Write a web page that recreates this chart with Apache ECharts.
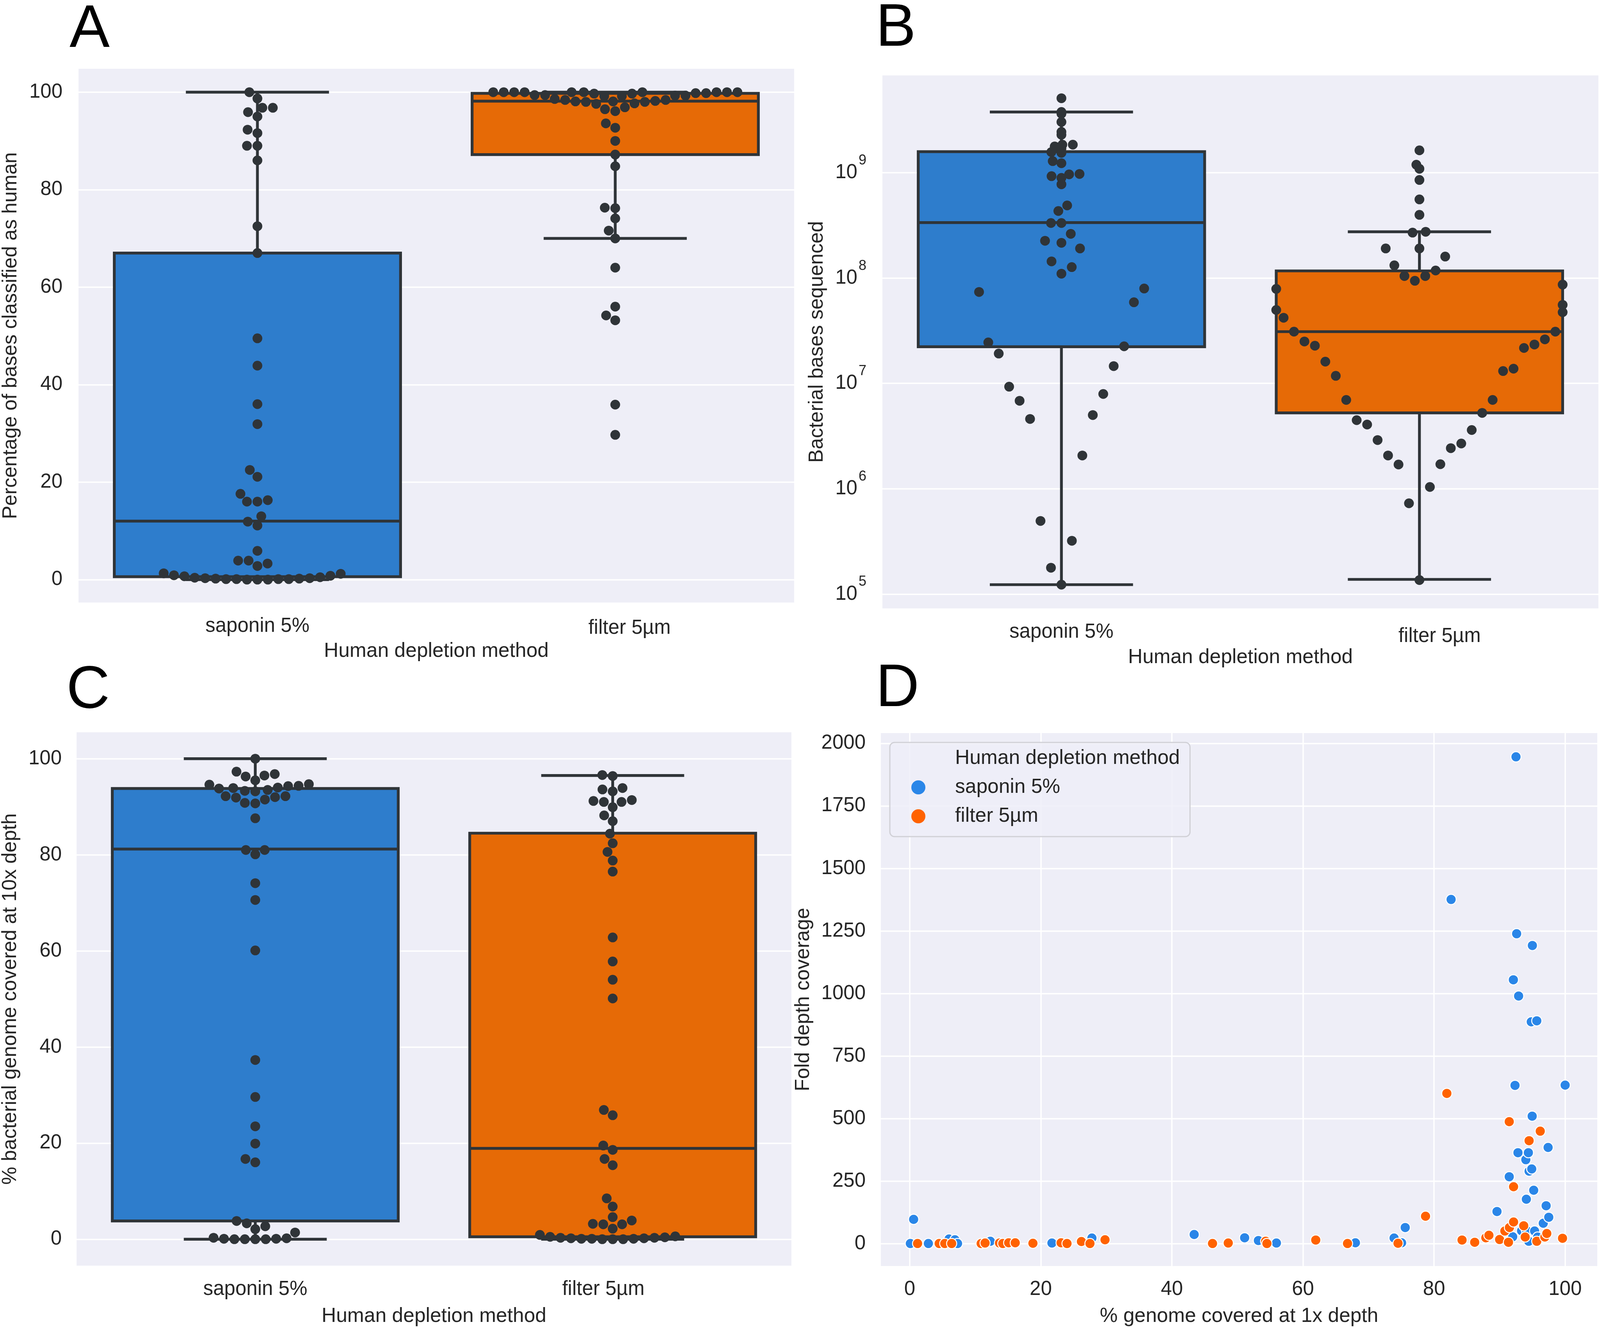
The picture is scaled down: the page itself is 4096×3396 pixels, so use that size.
<!DOCTYPE html>
<html><head><meta charset="utf-8">
<script src="https://cdn.jsdelivr.net/npm/echarts@6/dist/echarts.min.js"></script>
<style>html,body{margin:0;padding:0;background:#fff}#c{width:4096px;height:3396px}</style>
</head><body><div id="c"></div>
<script>
// ---------------- data ----------------
const categories = ['saponin 5%', 'filter 5µm'];
const pctTicks = [0, 20, 40, 60, 80, 100];
const bTickExponents = [5, 6, 7, 8, 9];
const dXTicks = [0, 20, 40, 60, 80, 100];
const dYTicks = [0, 250, 500, 750, 1000, 1250, 1500, 1750, 2000];

// Panel A: % bases classified as human
const aSaponin = [100, 98.7, 96.8, 96.8, 95.9, 95.0, 92.3, 91.6, 89.0, 89.0, 86.0, 72.5, 67.0, 49.5, 43.9, 36.0, 31.9, 22.5, 21.1, 17.6, 16.3, 16.0, 16.0, 13.0, 11.9, 11.1, 5.9, 3.9, 3.9, 3.3, 2.8, 1.3, 1.2, 0.9, 0.8, 0.7, 0.5, 0.4, 0.3, 0.3, 0.2, 0.2, 0.1, 0.1, 0.1, 0.1, 0.0, 0.0, 0.0];
const aFilter = [100, 100, 100, 100, 100, 100, 100, 100, 100, 100, 99.8, 99.8, 99.7, 99.7, 99.4, 99.4, 99.3, 99.3, 99.2, 99.2, 98.6, 98.4, 98.4, 98.2, 98.1, 98.1, 98.0, 98.0, 97.7, 97.6, 96.9, 96.5, 96.1, 93.6, 92.7, 90.0, 87.2, 84.8, 76.3, 76.2, 74.1, 71.6, 70.0, 64.0, 56.0, 54.2, 53.2, 35.9, 29.7];
const aBoxSaponin = [0, 0.6, 12.0, 67.0, 100];      // low whisker, Q1, median, Q3, high whisker
const aBoxFilter = [70.0, 87.2, 98.15, 99.76, 100];

// Panel B: bacterial bases sequenced
const bSaponin = [5.09e9, 3.77e9, 3.63e9, 3.03e9, 2.44e9, 2.29e9, 1.845e9, 1.845e9, 1.774e9, 1.694e9, 1.57e9, 1.542e9, 1.288e9, 1.23e9, 9.73e8, 9.64e8, 9.27e8, 8.93e8, 7.76e8, 4.89e8, 4.33e8, 3.33e8, 3.33e8, 2.63e8, 2.26e8, 2.16e8, 1.91e8, 1.44e8, 1.27e8, 1.10e8, 7.96e7, 7.38e7, 5.89e7, 2.45e7, 2.25e7, 1.92e7, 1.46e7, 9.31e6, 7.94e6, 6.84e6, 5.01e6, 4.60e6, 2.07e6, 4.95e5, 3.21e5, 1.78e5, 1.23e5];
const bFilter = [1.36e5, 7.28e5, 1.04e6, 1.70e6, 1.71e6, 2.07e6, 2.43e6, 2.69e6, 2.90e6, 3.61e6, 4.07e6, 4.48e6, 5.25e6, 6.97e6, 6.97e6, 1.18e7, 1.31e7, 1.38e7, 1.61e7, 2.17e7, 2.28e7, 2.34e7, 2.50e7, 2.62e7, 3.10e7, 3.10e7, 4.20e7, 4.74e7, 4.98e7, 5.57e7, 7.89e7, 8.67e7, 9.42e7, 1.045e8, 1.045e8, 1.18e8, 1.32e8, 1.60e8, 1.91e8, 1.91e8, 2.70e8, 2.75e8, 3.98e8, 5.58e8, 8.53e8, 1.09e9, 1.19e9, 1.63e9];
const bBoxSaponin = [1.23e5, 2.23e7, 3.36e8, 1.585e9, 3.77e9];
const bBoxFilter = [1.38e5, 5.25e6, 3.1e7, 1.17e8, 2.75e8];

// Panel C: % bacterial genome covered at 10x depth
const cSaponin = [100, 97.3, 96.8, 96.5, 96.3, 95.5, 94.7, 94.6, 94.35, 94.3, 94.0, 93.9, 93.8, 93.5, 93.3, 93.2, 92.2, 92.2, 92.0, 91.9, 91.5, 90.8, 90.7, 87.6, 81.0, 81.0, 80.1, 74.1, 70.6, 60.1, 37.3, 29.6, 23.5, 19.9, 16.7, 16.0, 3.8, 3.3, 2.7, 2.1, 1.4, 0.3, 0.2, 0.1, 0.1, 0.0, 0.0, 0.0, 0.0];
const cFilter = [96.6, 96.4, 93.9, 93.6, 93.2, 91.4, 91.2, 91.0, 91.0, 89.9, 88.2, 87.0, 84.4, 82.4, 80.6, 78.8, 76.5, 62.8, 57.8, 54.0, 50.1, 26.9, 25.8, 19.5, 18.6, 16.7, 15.4, 8.5, 6.8, 4.6, 3.9, 3.2, 3.1, 3.1, 2.2, 0.9, 0.6, 0.4, 0.3, 0.2, 0.1, 0.1, 0.0, 0.0, 0.0, 0.1, 0.2, 0.3, 0.5];
const cBoxSaponin = [0, 3.8, 81.2, 93.8, 100];
const cBoxFilter = [0, 0.5, 18.9, 84.5, 96.5];

// Panel D: [% genome covered at 1x depth, fold depth coverage]
const dSaponin = [[0.6, 97.6], [0.1, 1], [2.85, 1], [6.0, 19], [6.9, 16], [7.3, 1], [12.3, 10], [21.7, 3], [27.8, 23], [43.4, 37], [51.1, 24], [53.2, 13], [55.95, 3], [68.0, 4], [73.9, 23], [75.05, 4], [75.6, 65], [82.6, 1376], [89.6, 129], [91.47, 268], [92.0, 28], [92.1, 1055], [92.35, 633], [92.5, 1946], [92.6, 1239], [92.8, 364], [92.9, 990], [93.35, 52], [94.0, 336], [94.08, 178], [94.1, 53], [94.39, 364], [94.45, 10], [94.5, 290], [94.83, 887], [94.9, 299], [95.0, 1192], [94.97, 510], [95.2, 214], [95.34, 51], [95.67, 891], [95.8, 27], [96.66, 82], [97.1, 152], [97.4, 385], [97.5, 106], [100, 634]];
const dFilter = [[1.2, 1], [4.5, 1], [5.35, 1], [6.4, 1], [10.9, 1], [11.5, 3], [13.7, 3], [14.2, 1], [15.1, 4], [16.1, 4], [18.8, 2], [23.1, 4], [24.0, 1], [26.2, 9], [27.5, 1], [29.8, 16], [46.2, 1], [48.6, 3], [54.3, 10], [54.5, 1], [61.95, 15], [66.8, 1], [74.5, 2], [78.7, 110], [81.95, 601], [84.27, 15], [86.2, 6], [87.9, 24], [88.37, 34], [90.0, 17], [90.8, 51], [91.35, 6], [91.47, 488], [91.5, 65], [92.13, 228], [92.13, 87], [93.68, 72], [93.9, 27], [94.5, 412], [95.67, 10], [96.2, 450], [96.9, 27], [97.2, 41], [99.6, 22]];

// ---------------- style / layout ----------------
const FONT = '"Liberation Sans", Arial, Helvetica, sans-serif';
const TXT = '#262626';
const PLOT_BG = '#EEEEF7';
const EDGE = '#2f3438';
const DOT = '#2f3438';
const BLUE_BOX = '#2e7dcc', ORANGE_BOX = '#e66a06';
const BLUE = '#2a86e8', ORANGE = '#ff6200';
const LW = 7.2;
const TICK_FS = 51, TITLE_FS = 51.5, LETTER_FS = 154;
const SWARM_D = 25.5, DOT_SIZE = 25;

const G = {
  A: {left: 201, top: 176, width: 1832, height: 1366, ymin: -4.7, ymax: 104.8},
  B: {left: 2259, top: 193, width: 1833, height: 1364, ymin: 4.8645, ymax: 9.9235},
  C: {left: 193, top: 1874, width: 1833, height: 1365, ymin: -5.5, ymax: 105.5},
  D: {left: 2255, top: 1876, width: 1834, height: 1365, xmin: -4.4, xmax: 104.9, ymin: -89, ymax: 2041}
};

// seaborn-style beeswarm (in pixel space), returns x offsets in px
function beeswarm(vals, pxPerUnit, d, halfWidthPx) {
  const pts = vals.map((v, i) => ({v, y: v * pxPerUnit, i})).sort((a, b) => a.y - b.y);
  const placed = [];
  for (const p of pts) {
    const neighbors = [];
    for (let j = placed.length - 1; j >= 0; j--) {
      if (p.y - placed[j].y < d) neighbors.unshift(placed[j]); else break;
    }
    const cands = [0];
    let leftFirst = true;
    for (const n of neighbors) {
      const dy = p.y - n.y;
      const dx = Math.sqrt(Math.max(d * d - dy * dy, 0)) * 1.05;
      const cl = n.x - dx, cr = n.x + dx;
      if (leftFirst) cands.push(cl, cr); else cands.push(cr, cl);
      leftFirst = !leftFirst;
    }
    const sorted = cands.map((c, k) => ({c, k}))
      .sort((a, b) => (Math.abs(a.c) - Math.abs(b.c)) || (a.k - b.k)).map(o => o.c);
    let x = 0;
    if (neighbors.length) {
      x = sorted[sorted.length - 1];
      for (const c of sorted) {
        if (neighbors.every(n => (n.x - c) ** 2 + (n.y - p.y) ** 2 >= d * d)) { x = c; break; }
      }
    }
    p.x = x;
    placed.push(p);
  }
  return placed.map(p => ({v: p.v, dx: Math.max(-halfWidthPx, Math.min(halfWidthPx, p.x))}));
}

function swarmSeries(vals, cat, grid, swarmPxPerUnit, toY, xIdx, yIdx) {
  const pxPerX = grid.width / 2;
  const sw = beeswarm(vals, swarmPxPerUnit, SWARM_D, 0.4 * pxPerX);
  return {
    type: 'scatter', xAxisIndex: xIdx, yAxisIndex: yIdx, silent: true, z: 5,
    symbol: 'circle', symbolSize: DOT_SIZE, itemStyle: {color: DOT, opacity: 1},
    data: sw.map(p => [cat + p.dx / pxPerX, toY(p.v)])
  };
}

function renderBox(params, api) {
  const c = api.value(0), lo = api.value(1), q1 = api.value(2), md = api.value(3), q3 = api.value(4), hi = api.value(5);
  const fill = api.visual('color');
  const P = (x, y) => api.coord([x, y]);
  const ls = {stroke: EDGE, lineWidth: LW, fill: null};
  const line = (a, b) => ({type: 'line', shape: {x1: a[0], y1: a[1], x2: b[0], y2: b[1]}, style: ls});
  const tl = P(c - 0.4, q3), br = P(c + 0.4, q1);
  return {type: 'group', children: [
    line(P(c, q3), P(c, hi)), line(P(c, q1), P(c, lo)),
    line(P(c - 0.2, hi), P(c + 0.2, hi)), line(P(c - 0.2, lo), P(c + 0.2, lo)),
    {type: 'rect', shape: {x: tl[0], y: tl[1], width: br[0] - tl[0], height: br[1] - tl[1]}, style: {fill: fill, stroke: EDGE, lineWidth: LW}},
    line(P(c - 0.4, md), P(c + 0.4, md))
  ]};
}

function boxSeries(boxes, toY, xIdx, yIdx) {
  return {
    type: 'custom', xAxisIndex: xIdx, yAxisIndex: yIdx, silent: true, z: 2,
    renderItem: renderBox, encode: {x: 0, y: [1, 2, 3, 4, 5]},
    data: boxes.map((b, i) => ({value: [i].concat(b.map(toY)), itemStyle: {color: i === 0 ? BLUE_BOX : ORANGE_BOX}}))
  };
}

const nameStyle = {fontSize: TITLE_FS, fontFamily: FONT, color: TXT};
function catAxis(gi, namegap, richPad) {
  return {
    type: 'category', gridIndex: gi, data: categories, boundaryGap: true,
    axisLine: {show: false}, axisTick: {show: false}, splitLine: {show: false},
    axisLabel: {margin: 35, fontSize: TICK_FS, fontFamily: FONT, color: TXT,
      formatter: v => v === categories[1] ? '{f|' + v + '}' : v,
      rich: {f: {fontSize: TICK_FS, fontFamily: FONT, color: TXT, padding: richPad}}},
    name: 'Human depletion method', nameLocation: 'middle', nameGap: namegap, nameTextStyle: nameStyle
  };
}
function hiddenX(gi) { return {type: 'value', gridIndex: gi, min: -0.5, max: 1.5, show: false}; }
function valAxis(gi, min, max, ticks, name, gap, margin, fmt, rich) {
  const lab = {customValues: ticks, margin, fontSize: TICK_FS, fontFamily: FONT, color: TXT, formatter: fmt || (v => String(v))};
  if (rich) lab.rich = rich;
  return {
    type: 'value', gridIndex: gi, min, max,
    axisLine: {show: false}, axisTick: {show: false, customValues: ticks},
    axisLabel: lab,
    splitLine: {show: true, lineStyle: {color: '#ffffff', width: 3.5}},
    name, nameLocation: 'middle', nameGap: gap, nameTextStyle: nameStyle
  };
}

const id = v => v;
const lg = v => Math.log10(v);
const bAll = bSaponin.concat(bFilter);
const bMax = Math.max(...bAll), bMin = Math.min(...bAll);
const bLinPx = G.B.height / (1.1 * (bMax - bMin));   // swarm laid out on the linear scale

const grids = ['A', 'B', 'C', 'D'].map(k => ({
  left: G[k].left, top: G[k].top, width: G[k].width, height: G[k].height,
  show: true, backgroundColor: PLOT_BG, borderWidth: 0, containLabel: false
}));

const letter = (t, x, y) => ({type: 'text', x, y, style: {text: t, fontSize: LETTER_FS, fontFamily: FONT, fill: '#000', align: 'left', verticalAlign: 'middle'}});

const option = {
  animation: false,
  backgroundColor: '#ffffff',
  grid: grids,
  xAxis: [
    catAxis(0, 99, [5, 0, 0, 73]), hiddenX(0),
    catAxis(1, 100, [11, 0, 0, 103]), hiddenX(1),
    catAxis(2, 104, [0, 48, 0, 0]), hiddenX(2),
    {type: 'value', gridIndex: 3, min: G.D.xmin, max: G.D.xmax,
      axisLine: {show: false}, axisTick: {show: false, customValues: dXTicks},
      axisLabel: {customValues: dXTicks, margin: 34, fontSize: TICK_FS, fontFamily: FONT, color: TXT, formatter: v => String(v)},
      splitLine: {show: true, lineStyle: {color: '#ffffff', width: 3.5}},
      name: '% genome covered at 1x depth', nameLocation: 'middle', nameGap: 103, nameTextStyle: nameStyle}
  ],
  yAxis: [
    valAxis(0, G.A.ymin, G.A.ymax, pctTicks, 'Percentage of bases classified as human', 147, 41),
    valAxis(1, G.B.ymin, G.B.ymax, bTickExponents, 'Bacterial bases sequenced', 141, 41,
      v => '{b|10}{s|' + v + '}',
      {b: {fontSize: TICK_FS, fontFamily: FONT, color: TXT},
       s: {fontSize: 36, fontFamily: FONT, color: TXT, padding: [0, 0, 62, 3]}}),
    valAxis(2, G.C.ymin, G.C.ymax, pctTicks, '% bacterial genome covered at 10x depth', 143, 38),
    valAxis(3, G.D.ymin, G.D.ymax, dYTicks, 'Fold depth coverage', 172, 39)
  ],
  legend: {
    data: [{name: 'Human depletion method', icon: 'none'}, {name: 'saponin 5%', icon: 'circle'}, {name: 'filter 5µm', icon: 'circle'}],
    orient: 'vertical', left: 2278, top: 1900,
    itemWidth: 36, itemHeight: 36, itemGap: 22,
    padding: [15, 26, 26, 55],
    itemStyle: {borderWidth: 0},
    textStyle: {fontSize: TITLE_FS, fontFamily: FONT, color: TXT, padding: [0, 0, 0, 71]},
    backgroundColor: 'rgba(238,238,247,0.8)', borderColor: '#d0d0d6', borderWidth: 3, borderRadius: 12,
    selectedMode: false
  },
  graphic: [
    letter('A', 178, 78),
    letter('B', 2242, 75),
    letter('C', 170, 1770),
    letter('D', 2242, 1765)
  ],
  series: [
    boxSeries([aBoxSaponin, aBoxFilter], id, 1, 0),
    swarmSeries(aSaponin, 0, G.A, G.A.height / (G.A.ymax - G.A.ymin), id, 1, 0),
    swarmSeries(aFilter, 1, G.A, G.A.height / (G.A.ymax - G.A.ymin), id, 1, 0),
    boxSeries([bBoxSaponin, bBoxFilter], lg, 3, 1),
    swarmSeries(bSaponin, 0, G.B, bLinPx, lg, 3, 1),
    swarmSeries(bFilter, 1, G.B, bLinPx, lg, 3, 1),
    boxSeries([cBoxSaponin, cBoxFilter], id, 5, 2),
    swarmSeries(cSaponin, 0, G.C, G.C.height / (G.C.ymax - G.C.ymin), id, 5, 2),
    swarmSeries(cFilter, 1, G.C, G.C.height / (G.C.ymax - G.C.ymin), id, 5, 2),
    {type: 'scatter', name: 'Human depletion method', xAxisIndex: 6, yAxisIndex: 3, data: []},
    {type: 'scatter', name: 'saponin 5%', xAxisIndex: 6, yAxisIndex: 3, z: 4, symbolSize: 26,
      itemStyle: {color: BLUE, borderColor: '#ffffff', borderWidth: 2.5, opacity: 1}, data: dSaponin},
    {type: 'scatter', name: 'filter 5µm', xAxisIndex: 6, yAxisIndex: 3, z: 4, symbolSize: 26,
      itemStyle: {color: ORANGE, borderColor: '#ffffff', borderWidth: 2.5, opacity: 1}, data: dFilter}
  ]
};

const chart = echarts.init(document.getElementById('c'), null, {renderer: 'canvas', width: 4096, height: 3396});
chart.setOption(option);
</script>
</body></html>
